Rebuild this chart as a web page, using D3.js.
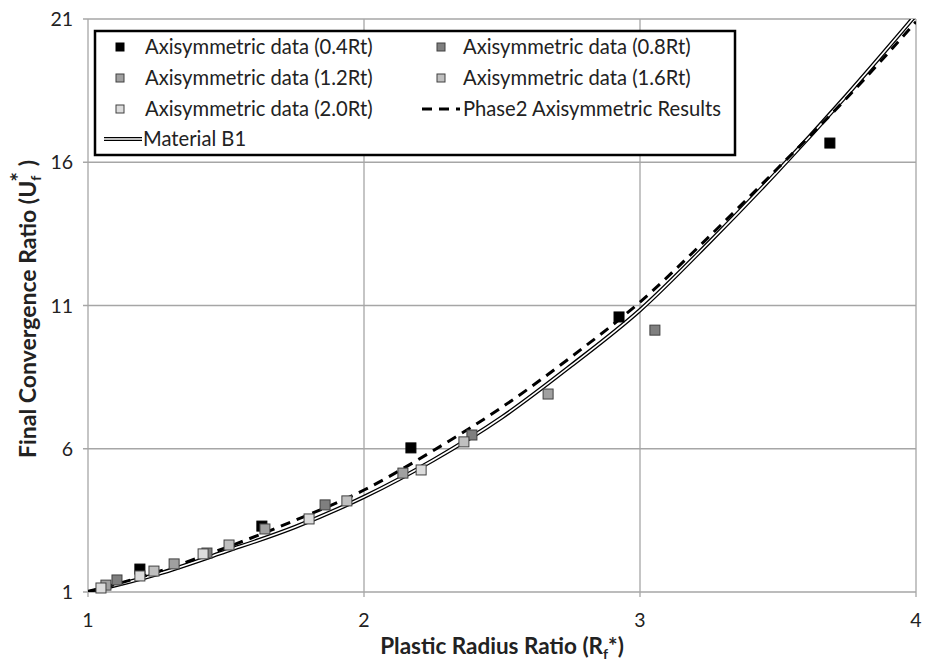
<!DOCTYPE html>
<html>
<head>
<meta charset="utf-8">
<script src="https://cdn.jsdelivr.net/npm/d3@7"></script>
<style>
  body { margin: 0; background: #fff; }
  svg { display: block; font-family: Lato, "Open Sans", sans-serif; }
</style>
</head>
<body>
<svg id="chart"></svg>
<script>
// Scatter series: [Rf*, Uf*]
const data04 = [[1.188, 1.80], [1.630, 3.30], [2.170, 6.03], [2.924, 10.60], [3.688, 16.67]];
const data08 = [[1.105, 1.42], [1.431, 2.36], [1.859, 4.04], [2.391, 6.48], [3.054, 10.14]];
const data12 = [[1.065, 1.24], [1.312, 1.98], [1.641, 3.20], [2.141, 5.15], [2.667, 7.91]];
const data16 = [[1.239, 1.73], [1.511, 2.64], [1.938, 4.18], [2.362, 6.24]];
const data20 = [[1.047, 1.14], [1.188, 1.56], [1.417, 2.33], [1.801, 3.55], [2.207, 5.26]];

// Line series
const phase2 = [[1.0, 1.0], [1.25, 1.70], [1.5, 2.55], [1.75, 3.50], [2.0, 4.56], [2.25, 5.93],
  [2.5, 7.45], [2.75, 9.20], [3.0, 11.12], [3.25, 13.4], [3.5, 15.8], [3.75, 18.25], [4.0, 20.9]];
const materialB1 = [[1.0, 1.0], [1.25, 1.62], [1.5, 2.42], [1.75, 3.27], [2.0, 4.32], [2.25, 5.60],
  [2.5, 7.10], [2.75, 8.90], [3.0, 10.84], [3.25, 13.2], [3.5, 15.7], [3.75, 18.35], [4.0, 21.15]];

const xTicks = [1, 2, 3, 4];
const yTicks = [1, 6, 11, 16, 21];

const width = 931, height = 662;
const margin = {left: 88, right: 15, top: 19, bottom: 70};

const svg = d3.select("#chart")
  .attr("width", width)
  .attr("height", height);

const x = d3.scaleLinear().domain([1, 4]).range([margin.left, width - margin.right]);
const y = d3.scaleLinear().domain([1, 21]).range([height - margin.bottom, margin.top]);

const grid = "#a6a6a6";

// gridlines
svg.append("g").selectAll("line.v")
  .data(xTicks).join("line")
  .attr("x1", d => x(d)).attr("x2", d => x(d))
  .attr("y1", y(21)).attr("y2", y(1) + 5)
  .attr("stroke", grid).attr("stroke-width", 1.3);
svg.append("g").selectAll("line.h")
  .data(yTicks).join("line")
  .attr("x1", x(1) - 5).attr("x2", x(4))
  .attr("y1", d => y(d)).attr("y2", d => y(d))
  .attr("stroke", grid).attr("stroke-width", 1.3);

// tick labels
svg.append("g").selectAll("text")
  .data(xTicks).join("text")
  .attr("x", d => x(d)).attr("y", y(1) + 35)
  .attr("text-anchor", "middle")
  .attr("font-size", 19.5).attr("fill", "#222")
  .text(d => d);
svg.append("g").selectAll("text")
  .data(yTicks).join("text")
  .attr("x", x(1) - 15).attr("y", d => y(d) + 7)
  .attr("text-anchor", "end")
  .attr("font-size", 19.5).attr("fill", "#222")
  .text(d => d);

// axis titles
const xt = svg.append("text")
  .attr("x", 502).attr("y", 654)
  .attr("text-anchor", "middle")
  .attr("font-size", 22.5).attr("font-weight", "bold").attr("fill", "#222");
xt.append("tspan").text("Plastic Radius Ratio (R");
xt.append("tspan").attr("font-size", 14).attr("dy", 5).text("f");
xt.append("tspan").attr("dy", -5).text("*)");

const yt = svg.append("text")
  .attr("transform", "translate(36,309) rotate(-90)")
  .attr("text-anchor", "middle")
  .attr("font-size", 23).attr("font-weight", "bold").attr("fill", "#222");
yt.append("tspan").text("Final Convergence Ratio (U");
yt.append("tspan").attr("font-size", 14).attr("dy", 5).text("f");
yt.append("tspan").attr("dx", -6).attr("dy", -14).text("*");
yt.append("tspan").attr("dy", 9).text(" )");

// clip for curves
svg.append("clipPath").attr("id", "plot")
  .append("rect")
  .attr("x", x(1)).attr("y", y(21))
  .attr("width", x(4) - x(1)).attr("height", y(1) - y(21));

const line = d3.line()
  .x(d => x(d[0])).y(d => y(d[1]))
  .curve(d3.curveMonotoneX);

const curves = svg.append("g").attr("clip-path", "url(#plot)");
curves.append("path").attr("d", line(materialB1))
  .attr("fill", "none").attr("stroke", "#000").attr("stroke-width", 4.2);
curves.append("path").attr("d", line(materialB1))
  .attr("fill", "none").attr("stroke", "#fff").attr("stroke-width", 1.6);
curves.append("path").attr("d", line(phase2))
  .attr("fill", "none").attr("stroke", "#000").attr("stroke-width", 3)
  .attr("stroke-dasharray", "10,7");

// markers
const series = [
  {name: "Axisymmetric data (0.4Rt)", values: data04, fill: "#000000", stroke: "#000000"},
  {name: "Axisymmetric data (0.8Rt)", values: data08, fill: "#7f7f7f", stroke: "#404040"},
  {name: "Axisymmetric data (1.2Rt)", values: data12, fill: "#a0a0a0", stroke: "#404040"},
  {name: "Axisymmetric data (1.6Rt)", values: data16, fill: "#bfbfbf", stroke: "#404040"},
  {name: "Axisymmetric data (2.0Rt)", values: data20, fill: "#dcdcdc", stroke: "#404040"}
];
const ms = 10;
series.forEach(s => {
  svg.append("g").selectAll("rect")
    .data(s.values).join("rect")
    .attr("x", d => x(d[0]) - ms / 2).attr("y", d => y(d[1]) - ms / 2)
    .attr("width", ms).attr("height", ms)
    .attr("fill", s.fill).attr("stroke", s.stroke).attr("stroke-width", 1);
});

// legend
const lg = svg.append("g");
lg.append("rect")
  .attr("x", 95).attr("y", 31).attr("width", 640).attr("height", 124)
  .attr("fill", "#fff").attr("stroke", "#000").attr("stroke-width", 2.5);

const rows = [47, 78, 109, 139];
const cols = [{m: 120, t: 145}, {m: 441, t: 463}];
const fs = 20.2;
series.forEach((s, i) => {
  const c = cols[i % 2], r = rows[Math.floor(i / 2)];
  lg.append("rect")
    .attr("x", c.m - 4).attr("y", r - 4).attr("width", 8).attr("height", 8)
    .attr("fill", s.fill).attr("stroke", s.stroke).attr("stroke-width", 1);
  lg.append("text")
    .attr("x", c.t).attr("y", r + 7)
    .attr("font-size", fs).attr("fill", "#222")
    .text(s.name);
});
// Phase2 legend
lg.append("line")
  .attr("x1", 422).attr("x2", 460).attr("y1", rows[2]).attr("y2", rows[2])
  .attr("stroke", "#000").attr("stroke-width", 3).attr("stroke-dasharray", "10,7");
lg.append("text")
  .attr("x", cols[1].t).attr("y", rows[2] + 7)
  .attr("font-size", fs).attr("fill", "#222")
  .text("Phase2 Axisymmetric Results");
// Material B1 legend
lg.append("line")
  .attr("x1", 104).attr("x2", 142).attr("y1", rows[3]).attr("y2", rows[3])
  .attr("stroke", "#000").attr("stroke-width", 4.2);
lg.append("line")
  .attr("x1", 104).attr("x2", 142).attr("y1", rows[3]).attr("y2", rows[3])
  .attr("stroke", "#fff").attr("stroke-width", 1.6);
lg.append("text")
  .attr("x", 143).attr("y", rows[3] + 7)
  .attr("font-size", fs).attr("fill", "#222")
  .text("Material B1");
</script>
</body>
</html>
